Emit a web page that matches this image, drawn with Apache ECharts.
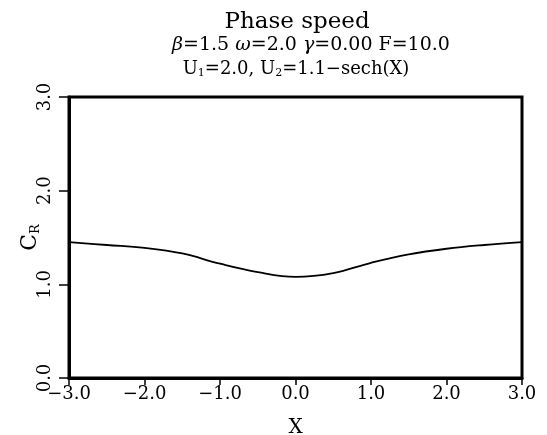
<!DOCTYPE html>
<html><head><meta charset="utf-8">
<script src="https://cdn.jsdelivr.net/npm/echarts@6/dist/echarts.min.js"></script>
<style>html,body{margin:0;padding:0;background:#fff}#c{width:547px;height:435px}</style>
</head><body><div id="c"></div>
<script>
const xValues = [-3.0, -2.5, -2.0, -1.5, -1.0, -0.5, 0.0, 0.5, 1.0, 1.5, 2.0, 2.5, 3.0];
const crValues = [1.45, 1.42, 1.39, 1.33, 1.22, 1.13, 1.08, 1.12, 1.23, 1.32, 1.38, 1.42, 1.45];
const xTickValues = [-3, -2, -1, 0, 1, 2, 3];
const yTickValues = [0, 1, 2, 3];

const FONT = '"DejaVu Serif", "Liberation Serif", serif';
const fmt = v => (v < 0 ? '\u2212' : '') + Math.abs(v).toFixed(1);
const chart = echarts.init(document.getElementById('c'));
const sub = {fontSize: 11, fontFamily: FONT, color: '#000', padding: [9, 0, 0, 0]};
const it = {fontSize: 19, fontFamily: FONT, fontStyle: 'italic', color: '#000'};
chart.setOption({
  animation: false,
  title: [
    {text: 'Phase speed', left: 292, top: 6, textAlign: 'center',
     textStyle: {fontSize: 23, fontWeight: 'normal', fontFamily: FONT, color: '#000'}},
    {text: '{i|\u03B2}=1.5 {i|\u03C9}=2.0 {i|\u03B3}=0.00 F=10.0', left: 306, top: 31, textAlign: 'center',
     textStyle: {fontSize: 19, fontWeight: 'normal', fontFamily: FONT, color: '#000', rich: {i: it}}},
    {text: 'U{s|1}=2.0, U{s|2}=1.1\u2212sech(X)', left: 291, top: 54, textAlign: 'center',
     textStyle: {fontSize: 18, fontWeight: 'normal', fontFamily: FONT, color: '#000', rich: {s: sub}}}
  ],
  grid: {left: 69, right: 25, top: 97, bottom: 57, containLabel: false, outerBoundsMode: 'none',
    show: true, borderColor: '#000', borderWidth: 3, backgroundColor: 'transparent'},
  xAxis: {
    type: 'value', min: xTickValues[0], max: xTickValues[xTickValues.length - 1], interval: 1,
    name: 'X', nameLocation: 'middle', nameGap: 40,
    nameTextStyle: {fontSize: 20, fontFamily: FONT, color: '#000'},
    axisLine: {show: true, onZero: false, lineStyle: {color: '#000', width: 3}},
    axisTick: {show: true, inside: false, length: 7, lineStyle: {color: '#000', width: 1.5}},
    splitLine: {show: false},
    axisLabel: {fontSize: 18, fontFamily: FONT, color: '#000', margin: 7, formatter: fmt},
  },
  yAxis: {
    type: 'value', min: yTickValues[0], max: yTickValues[yTickValues.length - 1], interval: 1,
    name: 'C{s|R}', nameLocation: 'middle', nameGap: 27, nameRotate: 90, nameMoveOverlap: false,
    nameTextStyle: {fontSize: 22, fontFamily: FONT, color: '#000', rich: {s: {fontSize: 13, fontFamily: FONT, color: '#000', padding: [10, 0, 0, 0]}}},
    axisLine: {show: true, onZero: false, lineStyle: {color: '#000', width: 3}},
    axisTick: {show: true, inside: false, length: 10, lineStyle: {color: '#000', width: 1.5}},
    splitLine: {show: false},
    axisLabel: {fontSize: 18, fontFamily: FONT, color: '#000', margin: 15, rotate: 90, formatter: fmt},
  },
  series: [{
    type: 'line', data: xValues.map((x, i) => [x, crValues[i]]),
    smooth: 0.4, showSymbol: false, symbol: 'none',
    lineStyle: {color: '#000', width: 1.8}
  }]
});
</script></body></html>
